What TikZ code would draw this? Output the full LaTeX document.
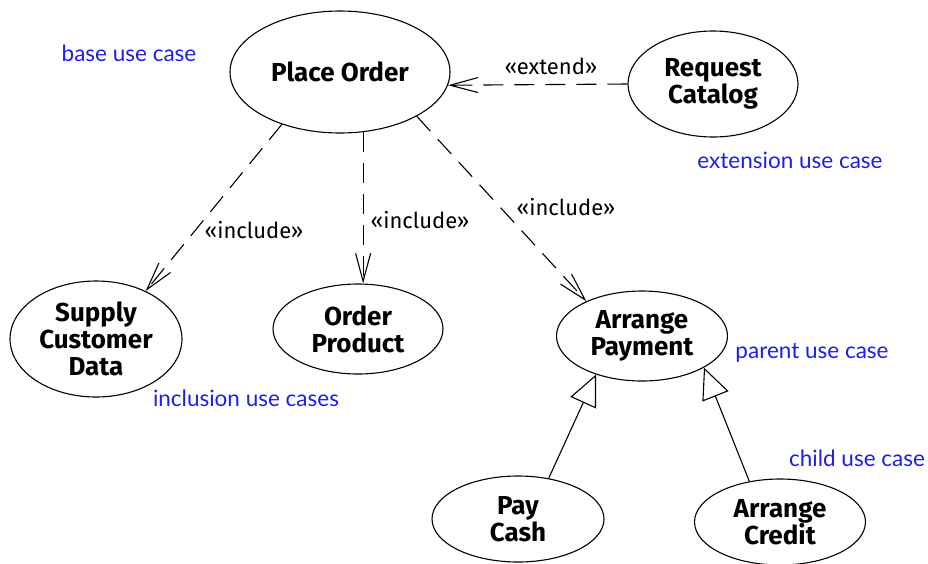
\documentclass[tikz,border=0pt]{standalone}
\usepackage{fontspec}
\setmainfont{Fira Sans}
\newfontfamily\notefont{Lato}
\usetikzlibrary{arrows.meta,positioning,shapes.geometric}
\definecolor{notecolor}{RGB}{30,30,235}
\tikzset{
  usecase/.style={ellipse, draw, line width=1.1pt, inner sep=0pt, align=center,
    font=\fontsize{26}{27}\selectfont\bfseries},
  depln/.style={-{Straight Barb[length=28pt,width=15pt,line width=1.1pt]},
    line width=1.1pt, dash pattern=on 20pt off 11pt},
  genln/.style={-{Triangle[open,length=31pt,width=28pt,line width=1.1pt]}, line width=1.1pt},
  stereo/.style={font=\fontsize{22}{23}\selectfont},
  note/.style={notecolor, font=\notefont\fontsize{22.5}{23}\selectfont},
}

\begin{document}
\begin{tikzpicture}[x=1pt,y=-1pt]
    \useasboundingbox (0,0) rectangle (928,563);
    % Use cases
    \node[usecase, minimum width=220pt, minimum height=122pt] (po) at (340,72) {Place Order};
    \node[usecase, minimum width=170pt, minimum height=106pt] (rc) at (713,84) {Request\\Catalog};
    \node[usecase, minimum width=172pt, minimum height=116pt] (scd) at (96,339) {Supply\\Customer\\Data};
    \node[usecase, minimum width=170pt, minimum height=90pt] (op) at (358,329) {Order\\Product};
    \node[usecase, minimum width=171pt, minimum height=90pt] (ap) at (642,336) {Arrange\\Payment};
    \node[usecase, minimum width=172pt, minimum height=86pt] (pc) at (518,519) {Pay\\Cash};
    \node[usecase, minimum width=171pt, minimum height=86pt] (ac) at (780,522) {Arrange\\Credit};
    % Extend
    \draw[depln] (rc.west) -- (po.-7);
    \node[stereo] (ext) at (551,66) {«extend»};
    % Includes
    \draw[depln] (po.-138) -- (scd.44);
    \node[stereo] (inc1) at (254,230) {«include»};
    \draw[depln] (po.-69) -- (po.-69 |- op.north);
    \node[stereo] (inc2) at (420,220) {«include»};
    \draw[depln] (po.-30) -- (ap.148);
    \node[stereo] (inc3) at (566,207) {«include»};
    % Generalization
    \draw[genln] (pc.53) -- (ap.-140);
    \draw[genln] (ac.127) -- (ap.-27);
    % Notes
    \node[note] (nbase) at (129,53) {base use case};
    \node[note] (next) at (790,160) {extension use case};
    \node[note] (nincl) at (246,398) {inclusion use cases};
    \node[note] (npar) at (812,353) {parent use case};
    \node[note] (nchild) at (857,458) {child use case};
  \end{tikzpicture}
\end{document}
